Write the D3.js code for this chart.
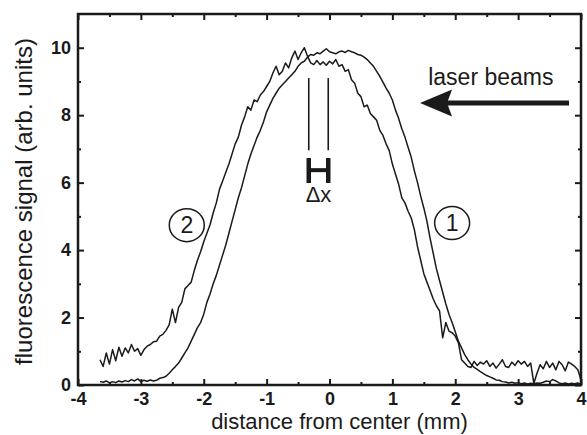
<!DOCTYPE html>
<html><head><meta charset="utf-8">
<script src="https://cdn.jsdelivr.net/npm/d3@7"></script>
<style>
body{margin:0;background:#fff;}
svg{display:block;}
text{font-family:"Liberation Sans",Arial,Helvetica,sans-serif;fill:#1a1a1a;}
</style>
</head><body>
<svg id="chart" width="587" height="435"></svg>
<script>
// distance from center (mm)
const positions = [
-3.65,-3.6,-3.55,-3.5,-3.45,-3.4,-3.35,-3.3,-3.25,-3.2,
-3.15,-3.1,-3.05,-3,-2.95,-2.9,-2.85,-2.8,-2.75,-2.7,
-2.65,-2.6,-2.55,-2.5,-2.45,-2.4,-2.35,-2.3,-2.25,-2.2,
-2.15,-2.1,-2.05,-2,-1.95,-1.9,-1.85,-1.8,-1.75,-1.7,
-1.65,-1.6,-1.55,-1.5,-1.45,-1.4,-1.35,-1.3,-1.25,-1.2,
-1.15,-1.1,-1.05,-1,-0.95,-0.9,-0.85,-0.8,-0.75,-0.7,
-0.65,-0.6,-0.55,-0.5,-0.45,-0.4,-0.35,-0.3,-0.25,-0.2,
-0.15,-0.1,-0.05,0,0.05,0.1,0.15,0.2,0.25,0.3,
0.35,0.4,0.45,0.5,0.55,0.6,0.65,0.7,0.75,0.8,
0.85,0.9,0.95,1,1.05,1.1,1.15,1.2,1.25,1.3,
1.35,1.4,1.45,1.5,1.55,1.6,1.65,1.7,1.75,1.8,
1.85,1.9,1.95,2,2.05,2.1,2.15,2.2,2.25,2.3,
2.35,2.4,2.45,2.5,2.55,2.6,2.65,2.7,2.75,2.8,
2.85,2.9,2.95,3,3.05,3.1,3.15,3.2,3.25,3.3,
3.35,3.4,3.45,3.5,3.55,3.6,3.65,3.7,3.75,3.8,
3.85,3.9,3.95,4
];
// curve 1 (smoother profile)
const signal1 = [
0.10,0.08,0.12,0.06,0.10,0.07,0.12,0.09,0.13,0.10,
0.16,0.12,0.18,0.10,0.14,0.11,0.15,0.12,0.14,0.20,
0.22,0.26,0.35,0.45,0.55,0.65,0.80,0.95,1.10,1.30,
1.50,1.70,1.85,2.10,2.45,2.70,3.00,3.25,3.55,3.85,
4.15,4.50,4.85,5.20,5.55,5.85,6.20,6.55,6.85,7.10,
7.35,7.55,7.80,8.10,8.30,8.50,8.65,8.80,8.90,9.00,
9.10,9.20,9.30,9.45,9.55,9.60,9.72,9.80,9.78,9.85,
9.82,9.90,9.97,9.88,9.85,9.82,9.88,9.90,9.86,9.92,
9.88,9.85,9.80,9.78,9.72,9.65,9.55,9.45,9.30,9.15,
8.98,8.80,8.65,8.45,8.15,7.90,7.60,7.35,7.05,6.75,
6.35,6.00,5.60,5.25,4.85,4.35,3.90,3.45,3.10,2.75,
2.40,2.10,1.85,1.58,1.30,1.10,0.90,0.75,0.62,0.52,
0.46,0.40,0.34,0.28,0.24,0.20,0.15,0.14,0.10,0.09,
0.06,0.08,0.05,0.07,0.04,0.06,0.03,0.05,0.04,0.06,
0.05,0.08,0.12,0.10,0.16,0.12,0.06,0.04,0.06,0.03,
0.05,0.04,0.06,0.02
];
// curve 2 (noisier profile)
const signal2 = [
0.75,0.55,0.95,0.62,1.05,0.72,1.12,0.85,1.10,0.95,
1.20,1.00,1.08,0.88,1.05,1.15,1.20,1.28,1.30,1.45,
1.50,1.62,1.78,2.25,1.85,2.30,2.45,2.85,2.95,3.05,
3.40,3.70,3.95,4.25,4.50,4.75,5.10,5.40,5.80,6.05,
6.30,6.55,6.85,7.15,7.35,7.70,7.95,8.25,8.15,8.45,
8.40,8.60,8.70,8.85,9.00,9.25,9.45,9.20,9.30,9.55,
9.40,9.70,9.90,9.65,9.85,10.00,9.75,9.55,9.50,9.62,
9.50,9.58,9.48,9.60,9.52,9.65,9.45,9.50,9.30,9.35,
9.05,8.95,8.65,8.55,8.25,8.30,8.05,7.95,7.85,7.55,
7.40,7.15,6.95,6.55,6.25,5.95,5.55,5.40,5.15,4.95,
4.60,4.10,3.70,3.30,3.05,2.80,2.55,2.35,2.20,1.40,
1.85,1.60,1.55,1.45,1.25,0.75,0.65,0.55,0.52,0.70,
0.58,0.68,0.62,0.72,0.55,0.65,0.50,0.62,0.75,0.55,
0.52,0.68,0.58,0.72,0.62,0.70,0.55,0.65,0.05,0.35,
0.60,0.48,0.70,0.52,0.65,0.45,0.70,0.60,0.42,0.68,
0.62,0.55,0.45,0.15
];
const xMajorTicks = [-4,-3,-2,-1,0,1,2,3,4];
const xMinorTicks = [-3.5,-2.5,-1.5,-0.5,0.5,1.5,2.5,3.5];
const yMajorTicks = [0,2,4,6,8,10];
const yMinorTicks = [1,3,5,7,9];
const xTitle = "distance from center (mm)";
const yTitle = "fluorescence signal (arb. units)";
const curveLabels = [{text:"1", x:1.95, y:4.8}, {text:"2", x:-2.27, y:4.74}];
const deltaLinesX = [-0.33, -0.02];
const beamText = "laser beams";

const svg = d3.select("#chart");
const W = 587, H = 435;
const m = {left:78, right:6, top:14, bottom:50};
const x = d3.scaleLinear().domain([-4,4]).range([m.left, W - m.right]);
const y = d3.scaleLinear().domain([0,11]).range([H - m.bottom, m.top]);
const ink = "#1a1a1a";

function styleAxis(g){
  g.select(".domain").remove();
  g.selectAll(".tick line").attr("stroke", ink).attr("stroke-width", 2);
}
// minor ticks
svg.append("g").attr("transform",`translate(0,${y(0)})`)
  .call(d3.axisBottom(x).tickValues(xMinorTicks).tickSizeInner(-3).tickSizeOuter(0).tickFormat(""))
  .call(styleAxis);
svg.append("g").attr("transform",`translate(0,${y(11)})`)
  .call(d3.axisTop(x).tickValues(xMinorTicks).tickSizeInner(-3).tickSizeOuter(0).tickFormat(""))
  .call(styleAxis);
svg.append("g").attr("transform",`translate(${x(-4)},0)`)
  .call(d3.axisLeft(y).tickValues(yMinorTicks).tickSizeInner(-3).tickSizeOuter(0).tickFormat(""))
  .call(styleAxis);
svg.append("g").attr("transform",`translate(${x(4)},0)`)
  .call(d3.axisRight(y).tickValues(yMinorTicks).tickSizeInner(-3).tickSizeOuter(0).tickFormat(""))
  .call(styleAxis);
// major ticks
const xb = svg.append("g").attr("transform",`translate(0,${y(0)})`)
  .call(d3.axisBottom(x).tickValues(xMajorTicks).tickSizeInner(-6).tickSizeOuter(0).tickPadding(7).tickFormat(d3.format("d")))
  .call(styleAxis);
xb.selectAll("text").attr("font-size",18).attr("font-weight","bold").attr("fill",ink)
  .style("font-family",'"Liberation Sans",Arial,sans-serif').text(d => String(d));
svg.append("g").attr("transform",`translate(0,${y(11)})`)
  .call(d3.axisTop(x).tickValues(xMajorTicks).tickSizeInner(-6).tickSizeOuter(0).tickFormat(""))
  .call(styleAxis);
const yl = svg.append("g").attr("transform",`translate(${x(-4)},0)`)
  .call(d3.axisLeft(y).tickValues(yMajorTicks).tickSizeInner(-6).tickSizeOuter(0).tickPadding(7).tickFormat(d3.format("d")))
  .call(styleAxis);
yl.selectAll("text").attr("font-size",18).attr("font-weight","bold").attr("fill",ink)
  .style("font-family",'"Liberation Sans",Arial,sans-serif');
svg.append("g").attr("transform",`translate(${x(4)},0)`)
  .call(d3.axisRight(y).tickValues(yMajorTicks).tickSizeInner(-6).tickSizeOuter(0).tickFormat(""))
  .call(styleAxis);

// frame
svg.append("rect").attr("x",x(-4)).attr("y",y(11)).attr("width",x(4)-x(-4)).attr("height",y(0)-y(11))
  .attr("fill","none").attr("stroke",ink).attr("stroke-width",2.5);

// curves
const line = d3.line().x(d=>x(d[0])).y(d=>y(d[1]));
[signal1, signal2].forEach(s => {
  svg.append("path").datum(positions.map((p,i)=>[p,s[i]]))
    .attr("d",line).attr("fill","none").attr("stroke",ink).attr("stroke-width",1.5)
    .attr("stroke-linejoin","round");
});

// circled curve labels
curveLabels.forEach(c => {
  svg.append("ellipse").attr("cx",x(c.x)).attr("cy",y(c.y)).attr("rx",17.5).attr("ry",16.5)
    .attr("fill","none").attr("stroke",ink).attr("stroke-width",1.5);
  svg.append("text").attr("x",x(c.x)).attr("y",y(c.y)+8).attr("text-anchor","middle")
    .attr("font-size",23).text(c.text);
});

// delta x marker
deltaLinesX.forEach(v => {
  svg.append("line").attr("x1",x(v)).attr("x2",x(v)).attr("y1",y(9.1)).attr("y2",y(6.96))
    .attr("stroke",ink).attr("stroke-width",1.6);
  svg.append("line").attr("x1",x(v)).attr("x2",x(v)).attr("y1",y(6.73)).attr("y2",y(5.99))
    .attr("stroke",ink).attr("stroke-width",4.5);
});
svg.append("line").attr("x1",x(deltaLinesX[0])).attr("x2",x(deltaLinesX[1]))
  .attr("y1",y(6.37)).attr("y2",y(6.37)).attr("stroke",ink).attr("stroke-width",4);
svg.append("text").attr("x",x((deltaLinesX[0]+deltaLinesX[1])/2)).attr("y",y(5.42))
  .attr("text-anchor","middle").attr("font-size",22).text("Δx");

// laser beams arrow
const tipX = x(1.44), tipY = y(8.36);
svg.append("line").attr("x1",tipX+25).attr("x2",x(3.81)).attr("y1",tipY).attr("y2",tipY)
  .attr("stroke",ink).attr("stroke-width",5);
svg.append("path")
  .attr("d",`M${tipX},${tipY} L${tipX+32},${tipY-13.5} L${tipX+27},${tipY} L${tipX+32},${tipY+13.5} Z`)
  .attr("fill",ink);
svg.append("text").attr("x",x(1.57)).attr("y",y(8.89)).attr("font-size",23).text(beamText);

// axis titles
svg.append("text").attr("x",(x(-4)+x(4))/2+10).attr("y",429).attr("text-anchor","middle")
  .attr("font-size",22).text(xTitle);
svg.append("text").attr("transform",`translate(32,${(y(0)+y(11))/2+2}) rotate(-90)`)
  .attr("text-anchor","middle").attr("font-size",24).text(yTitle);
</script>
</body></html>
